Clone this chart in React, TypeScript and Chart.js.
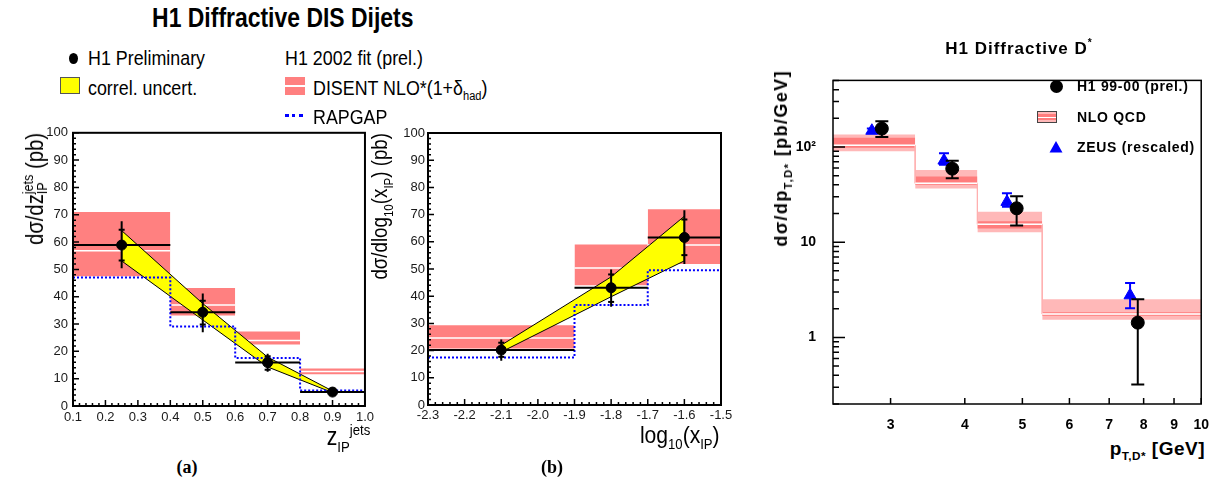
import React, { useEffect, useRef } from "react";
import { Chart, registerables } from "chart.js";
Chart.register(...registerables);

// ---------------- Panel (a): dσ/dz_IP^jets ----------------
const zEdges = [0.1, 0.4, 0.6, 0.8, 1.0];
const zCentres = [0.25, 0.5, 0.7, 0.9];
const zValues = [58.9, 34.3, 15.9, 5.1];
const zTotLo = [50.4, 27.0, 12.5, 5.1];
const zTotHi = [67.6, 41.2, 19.1, 5.1];
const zStatLo = [53.3, 29.8, 13.3, null];
const zStatHi = [64.5, 38.5, 18.2, null];
const zCorrUp = [64.2, 37.5, 17.9, 5.5];
const zCorrDn = [53.1, 31.5, 14.3, 4.9];
const zNloLo = [47.5, 33.1, 22.5, 11.6];
const zNloHi = [71.0, 43.2, 27.3, 13.7];
const zNloMid = [56.8, 37.0, 24.0, 12.6];
const zRapgap = [47.0, 29.1, 17.6, 5.7];

// ---------------- Panel (b): dσ/dlog10(x_IP) ----------------
const xpEdges = [-2.3, -1.9, -1.7, -1.5];
const xpCentres = [-2.1, -1.8, -1.6];
const xpValues = [20.2, 43.1, 61.6];
const xpTotLo = [16.3, 36.1, 51.8];
const xpTotHi = [24.1, 49.8, 71.6];
const xpStatLo = [17.7, 37.9, 55.1];
const xpStatHi = [22.9, 48.0, 68.2];
const xpCorrUp = [22.0, 47.1, 69.4];
const xpCorrDn = [19.5, 39.8, 53.0];
const xpNloLo = [20.8, 44.0, 51.8];
const xpNloHi = [29.3, 59.0, 72.0];
const xpNloMid = [24.6, 50.4, 58.8];
const xpRapgap = [17.5, 36.8, 49.5];

// ---------------- Panel (c): dσ/dpT,D* ----------------
const ptEdges = [2.4, 3.3, 4.2, 5.4, 10];
const ptH1X = [2.9, 3.81, 4.89, 7.82];
const ptH1 = [156, 59.2, 22.7, 1.43];
const ptH1Lo = [127, 46.9, 15.0, 0.32];
const ptH1Hi = [186, 71.5, 30.3, 2.52];
const ptZeusX = [2.79, 3.69, 4.71, 7.59];
const ptZeus = [148, 72, 26.5, 2.77];
const ptZeusLo = [141, 65, 23.6, 2.03];
const ptZeusHi = [156, 86, 32.7, 3.72];
const ptNloOuterLo = [90, 36.6, 12.7, 1.53];
const ptNloOuterHi = [135, 57.4, 20.9, 2.52];
const ptNloInnerLo = [98, 40, 13.9, 1.69];
const ptNloInnerHi = [125, 49, 16.6, 1.84];
const ptNloMid = [104, 41.5, 15.4, 1.76];
const ptTickValues = [3, 4, 5, 6, 7, 8, 9, 10];
const ptYTickValues = [1, 10, 100];
const ptYTickLabels = ["1", "10", "10\u00b2"];

const FONT = '"Liberation Sans", Arial, Helvetica, sans-serif';

function rangeTicks(from: number, to: number, step: number, skipEvery = 0) {
  const out: number[] = [];
  const n = Math.round((to - from) / step);
  for (let i = 0; i <= n; i++) {
    if (skipEvery && i % skipEvery === 0) continue;
    out.push(+(from + i * step).toFixed(6));
  }
  return out;
}

function framePlugin(cfg: any) {
  return {
    id: "frame",
    afterDatasetsDraw(chart: any) {
      const { ctx, chartArea: a } = chart;
      const xs = chart.scales.x;
      const ys = chart.scales.y;
      ctx.save();
      ctx.strokeStyle = "#000";
      ctx.lineWidth = cfg.tickWidth;
      ctx.beginPath();
      const yt = (vals: number[], len: number) =>
        vals.forEach((v) => {
          const p = ys.getPixelForValue(v);
          ctx.moveTo(a.left, p);
          ctx.lineTo(a.left + len, p);
        });
      const xt = (vals: number[], len: number) =>
        vals.forEach((v) => {
          const p = xs.getPixelForValue(v);
          ctx.moveTo(p, a.bottom);
          ctx.lineTo(p, a.bottom - len);
        });
      yt(cfg.yMajor, cfg.yMajorLen);
      yt(cfg.yMinor, cfg.yMinorLen);
      xt(cfg.xMajor, cfg.xMajorLen);
      xt(cfg.xMinor, cfg.xMinorLen);
      ctx.stroke();
      ctx.lineWidth = cfg.frameWidth;
      ctx.strokeRect(a.left, a.top, a.right - a.left, a.bottom - a.top);
      ctx.restore();
    },
  };
}

const NONE = "rgba(0,0,0,0)";

function dijetDatasets(
  edges: number[], centres: number[], values: number[],
  totLo: number[], totHi: number[], statLo: (number | null)[], statHi: (number | null)[],
  corrUp: number[], corrDn: number[], nloLo: number[], nloHi: number[], nloMid: number[], rap: number[]
) {
  const ds: any[] = [];
  nloLo.forEach((lo, i) =>
    ds.push({
      data: [{ x: edges[i], y: nloHi[i] }, { x: edges[i + 1], y: nloHi[i] }],
      fill: { value: lo }, backgroundColor: "#ff8080", borderColor: NONE, borderWidth: 1,
      pointRadius: 0, order: 10,
    })
  );
  ds.push({
    data: nloMid.flatMap((m, i) => [{ x: edges[i], y: m }, { x: edges[i + 1], y: m }, { x: edges[i + 1], y: null }]),
    borderColor: "#ffffff", borderWidth: 1.5, pointRadius: 0, fill: false, order: 9,
  });
  ds.push({
    data: [
      ...centres.map((c, i) => ({ x: c, y: corrUp[i] })),
      ...centres.map((c, i) => ({ x: c, y: corrDn[i] })).reverse(),
      { x: centres[0], y: corrUp[0] },
    ],
    fill: "shape", backgroundColor: "#ffff00", borderColor: "#000", borderWidth: 1, pointRadius: 0, order: 8,
  });
  ds.push({
    data: rap.flatMap((v, i) => [{ x: edges[i], y: v }, { x: edges[i + 1], y: v }]),
    borderColor: "#0000ff", borderWidth: 2, borderDash: [2, 2], pointRadius: 0, fill: false, order: 7,
  });
  ds.push({
    data: values.flatMap((v, i) => [{ x: edges[i], y: v }, { x: edges[i + 1], y: v }, { x: edges[i + 1], y: null }]),
    borderColor: "#000", borderWidth: 2, pointRadius: 0, fill: false, order: 6,
  });
  ds.push({
    data: centres.flatMap((c, i) => [{ x: c, y: totLo[i] }, { x: c, y: totHi[i] }, { x: c, y: null }]),
    borderColor: "#000", borderWidth: 2, pointRadius: 0, fill: false, order: 5,
  });
  ds.push({
    data: centres.flatMap((c, i) => [{ x: c, y: statLo[i] }, { x: c, y: statHi[i] }]),
    showLine: false, pointStyle: "line", pointRadius: 3, pointBorderWidth: 2,
    pointBorderColor: "#000", pointBackgroundColor: "#000", order: 4,
  });
  ds.push({
    data: centres.map((c, i) => ({ x: c, y: values[i] })),
    showLine: false, pointStyle: "circle", pointRadius: 5, pointBorderWidth: 1,
    pointBorderColor: "#000", pointBackgroundColor: "#000", order: 3,
  });
  return ds;
}

function dijetConfig(p: any) {
  return {
    type: "line",
    data: { datasets: p.datasets },
    options: {
      animation: false, responsive: false, devicePixelRatio: 1, events: [],
      layout: { padding: { left: 0, top: p.padTop, right: p.padRight, bottom: 0 } },
      plugins: { legend: { display: false }, tooltip: { enabled: false } },
      scales: {
        x: {
          type: "linear", min: p.xMin, max: p.xMax,
          grid: { display: false, drawTicks: false }, border: { display: false },
          ticks: { stepSize: 0.1, autoSkip: false, maxRotation: 0, padding: p.xPad, color: "#1a1a1a", font: { family: FONT, size: 13 } },
          afterFit: (s: any) => { s.height = 24; },
        },
        y: {
          type: "linear", min: 0, max: 100,
          grid: { display: false, drawTicks: false }, border: { display: false },
          ticks: { stepSize: 10, autoSkip: false, padding: p.yPad, color: "#1a1a1a", font: { family: FONT, size: 13 } },
          afterFit: (s: any) => { s.width = p.yWidth; },
        },
      },
    },
    plugins: [
      framePlugin({
        tickWidth: 1.5, frameWidth: 2,
        yMajor: rangeTicks(0, 100, 10), yMajorLen: 6, yMinor: rangeTicks(0, 100, 2, 5), yMinorLen: 3,
        xMajor: rangeTicks(p.xMin, p.xMax, 0.1), xMajorLen: 6, xMinor: rangeTicks(p.xMin, p.xMax, 0.02, 5), xMinorLen: 3,
      }),
    ],
  };
}

function configA() {
  return dijetConfig({
    datasets: dijetDatasets(zEdges, zCentres, zValues, zTotLo, zTotHi, zStatLo, zStatHi, zCorrUp, zCorrDn, zNloLo, zNloHi, zNloMid, zRapgap),
    xMin: 0.1, xMax: 1.0, padTop: 11, padRight: 8, yWidth: 73, xPad: 4, yPad: 5,
  });
}

function configB() {
  return dijetConfig({
    datasets: dijetDatasets(xpEdges, xpCentres, xpValues, xpTotLo, xpTotHi, xpStatLo, xpStatHi, xpCorrUp, xpCorrDn, xpNloLo, xpNloHi, xpNloMid, xpRapgap),
    xMin: -2.3, xMax: -1.5, padTop: 13, padRight: 19, yWidth: 58, xPad: 3, yPad: 3,
  });
}

function configC() {
  const ds: any[] = [];
  ptNloOuterLo.forEach((lo, i) =>
    ds.push({
      data: [{ x: ptEdges[i], y: ptNloOuterHi[i] }, { x: ptEdges[i + 1], y: ptNloOuterHi[i] }],
      fill: { value: lo }, backgroundColor: "#ffb8b8", borderColor: NONE, borderWidth: 1, pointRadius: 0, order: 12,
    })
  );
  ptNloInnerLo.forEach((lo, i) =>
    ds.push({
      data: [{ x: ptEdges[i], y: ptNloInnerHi[i] }, { x: ptEdges[i + 1], y: ptNloInnerHi[i] }],
      fill: { value: lo }, backgroundColor: "#ff7c7c", borderColor: NONE, borderWidth: 1, pointRadius: 0, order: 11,
    })
  );
  ds.push({
    data: ptNloMid.flatMap((m, i) => [{ x: ptEdges[i], y: m }, { x: ptEdges[i + 1], y: m }]),
    borderColor: "#ffb0b0", borderWidth: 1, pointRadius: 0, fill: false, order: 10,
  });
  ds.push({
    data: ptNloMid.flatMap((m, i) => [{ x: ptEdges[i], y: m }, { x: ptEdges[i + 1], y: m }, { x: ptEdges[i + 1], y: null }]),
    borderColor: "#ffffff", borderWidth: 1.5, pointRadius: 0, fill: false, order: 9,
  });
  // ZEUS
  ds.push({
    data: ptZeusX.flatMap((x, i) => [{ x, y: ptZeusLo[i] }, { x, y: ptZeusHi[i] }, { x, y: null }]),
    borderColor: "#0000ff", borderWidth: 2, pointRadius: 0, fill: false, order: 8,
  });
  ds.push({
    data: ptZeusX.flatMap((x, i) => [{ x, y: ptZeusLo[i] }, { x, y: ptZeusHi[i] }]),
    showLine: false, pointStyle: "line", pointRadius: 5, pointBorderWidth: 2, pointBorderColor: "#0000ff", order: 7,
  });
  ds.push({
    data: ptZeusX.map((x, i) => ({ x, y: ptZeus[i] })),
    showLine: false, pointStyle: "triangle", pointRadius: 7, pointBorderWidth: 1,
    pointBorderColor: "#0000ff", pointBackgroundColor: "#0000ff", order: 6,
  });
  // H1
  ds.push({
    data: ptH1X.flatMap((x, i) => [{ x, y: ptH1Lo[i] }, { x, y: ptH1Hi[i] }, { x, y: null }]),
    borderColor: "#000", borderWidth: 2, pointRadius: 0, fill: false, order: 5,
  });
  ds.push({
    data: ptH1X.flatMap((x, i) => [{ x, y: ptH1Lo[i] }, { x, y: ptH1Hi[i] }]),
    showLine: false, pointStyle: "line", pointRadius: 6.5, pointBorderWidth: 2, pointBorderColor: "#000", order: 4,
  });
  ds.push({
    data: ptH1X.map((x, i) => ({ x, y: ptH1[i] })),
    showLine: false, pointStyle: "circle", pointRadius: 6.5, pointBorderWidth: 1,
    pointBorderColor: "#000", pointBackgroundColor: "#000", order: 3,
  });

  const yMinor: number[] = [];
  [0.1, 1, 10, 100].forEach((d) => [2, 3, 4, 5, 6, 7, 8, 9].forEach((k) => {
    const v = +(k * d).toFixed(4);
    if (v >= 0.2 && v <= 500) yMinor.push(v);
  }));

  return {
    type: "line",
    data: { datasets: ds },
    options: {
      animation: false, responsive: false, devicePixelRatio: 1, events: [],
      layout: { padding: { left: 0, top: 14, right: 17, bottom: 0 } },
      plugins: { legend: { display: false }, tooltip: { enabled: false } },
      scales: {
        x: {
          type: "logarithmic", min: 2.4, max: 10,
          grid: { display: false, drawTicks: false }, border: { display: false },
          afterBuildTicks: (s: any) => { s.ticks = ptTickValues.map((v) => ({ value: v })); },
          ticks: {
            autoSkip: false, maxRotation: 0, padding: 13, color: "#000",
            font: { family: FONT, size: 14, weight: "bold" },
            callback: (v: any) => String(v),
          },
          afterFit: (s: any) => { s.height = 30; },
        },
        y: {
          type: "logarithmic", min: 0.2, max: 500,
          grid: { display: false, drawTicks: false }, border: { display: false },
          afterBuildTicks: (s: any) => { s.ticks = ptYTickValues.map((v) => ({ value: v })); },
          ticks: {
            autoSkip: false, padding: 17, color: "#000",
            font: { family: FONT, size: 14, weight: "bold" },
            callback: (v: any) => {
              const i = ptYTickValues.indexOf(Number(v));
              return i >= 0 ? ptYTickLabels[i] : "";
            },
          },
          afterFit: (s: any) => { s.width = 73; },
        },
      },
    },
    plugins: [
      framePlugin({
        tickWidth: 1.5, frameWidth: 1.5,
        yMajor: ptYTickValues, yMajorLen: 12, yMinor, yMinorLen: 6,
        xMajor: ptTickValues, xMajorLen: 6, xMinor: [], xMinorLen: 0,
      }),
    ],
  };
}

function ChartCanvas({ left, top, width, height, make }: any) {
  const ref = useRef<HTMLCanvasElement | null>(null);
  useEffect(() => {
    const c = new Chart(ref.current as any, make());
    return () => c.destroy();
  }, []);
  return (
    <canvas ref={ref} width={width} height={height}
      style={{ position: "absolute", left, top, width, height }} />
  );
}

const Sub = ({ children, s = 0.62, dy = 0.26 }: any) => (
  <span style={{ fontSize: `${s}em`, position: "relative", top: `${dy / s}em` }}>{children}</span>
);
const Sup = ({ children, s = 0.62, dy = 0.42 }: any) => (
  <span style={{ fontSize: `${s}em`, position: "relative", top: `${-dy / s}em` }}>{children}</span>
);
const SubSup = ({ sub, sup, s = 0.62 }: any) => (
  <span style={{ display: "inline-flex", flexDirection: "column", alignItems: "flex-start", fontSize: `${s}em`, lineHeight: 1, verticalAlign: `${0.44 / s}em` }}>
    <span>{sup}</span>
    <span>{sub}</span>
  </span>
);

const abs = (s: any): any => ({ position: "absolute", whiteSpace: "nowrap", lineHeight: 1, ...s });
const sq = (k = 0.85, origin = "left center"): any => ({ display: "inline-block", transform: `scaleX(${k})`, transformOrigin: origin });
const SERIF = '"Liberation Serif", "DejaVu Serif", serif';

export default function App() {
  return (
    <div style={{ position: "fixed", left: 0, top: 0, width: 1222, height: 485, background: "#fff", overflow: "hidden", fontFamily: FONT, color: "#000" }}>
      <ChartCanvas left={0} top={120} width={378} height={310} make={configA} />
      <ChartCanvas left={370} top={120} width={370} height={309} make={configB} />
      <ChartCanvas left={760} top={55} width={462} height={379} make={configC} />

      {/* main title */}
      <div style={abs({ left: 0, top: 5, width: 565, textAlign: "center", fontSize: 27, fontWeight: "bold" })}>
        <span style={sq(0.85, "center")}>H1 Diffractive DIS Dijets</span>
      </div>

      {/* legend a/b */}
      <div style={abs({ left: 69, top: 53, width: 9, height: 11, borderRadius: "50%", background: "#000" })} />
      <div style={abs({ left: 88, top: 47, fontSize: 21 })}><span style={sq()}>H1 Preliminary</span></div>
      <div style={abs({ left: 60, top: 77, width: 20, height: 17, background: "#ffff00", border: "1px solid #555", boxSizing: "border-box" })} />
      <div style={abs({ left: 88, top: 77, fontSize: 21 })}><span style={sq()}>correl. uncert.</span></div>
      <div style={abs({ left: 285, top: 47, fontSize: 21 })}><span style={sq()}>H1 2002 fit (prel.)</span></div>
      <div style={abs({ left: 285, top: 77, width: 20, height: 18, background: "#ff8080" })}>
        <div style={abs({ left: 0, top: 8, width: 20, height: 2, background: "#fff" })} />
      </div>
      <div style={abs({ left: 313, top: 77, fontSize: 21 })}><span style={sq()}>DISENT NLO*(1+δ<Sub>had</Sub>)</span></div>
      <div style={abs({ left: 285, top: 114, width: 18, height: 0, borderTop: "3px dotted #0000ff" })} />
      <div style={abs({ left: 313, top: 105.5, fontSize: 21 })}><span style={sq()}>RAPGAP</span></div>

      {/* axis titles a */}
      <div style={abs({ left: 20.5, top: 133, fontSize: 23, transformOrigin: "0 0", transform: "rotate(-90deg) scaleX(0.88) translateX(-100%)" })}>
        dσ/dz<SubSup sub="IP" sup="jets" /> (pb)
      </div>
      <div style={abs({ right: 1222 - 370, top: 424, fontSize: 25 })}>
        <span style={sq(0.85, "right center")}>z<Sub>IP</Sub><Sup>jets</Sup></span>
      </div>

      {/* axis titles b */}
      <div style={abs({ left: 369, top: 133, fontSize: 22, transformOrigin: "0 0", transform: "rotate(-90deg) scaleX(0.85) translateX(-100%)" })}>
        dσ/dlog<Sub>10</Sub>(x<Sub>IP</Sub>) (pb)
      </div>
      <div style={abs({ right: 1222 - 720, top: 423, fontSize: 24 })}>
        <span style={sq(0.88, "right center")}>log<Sub>10</Sub>(x<Sub>IP</Sub>)</span>
      </div>

      {/* captions */}
      <div style={abs({ left: 137, top: 458, width: 100, textAlign: "center", fontSize: 18, fontWeight: "bold", fontFamily: SERIF })}>(a)</div>
      <div style={abs({ left: 502, top: 458, width: 100, textAlign: "center", fontSize: 18, fontWeight: "bold", fontFamily: SERIF })}>(b)</div>

      {/* panel c texts */}
      <div style={abs({ left: 919, top: 40, width: 200, textAlign: "center", fontSize: 17, fontWeight: "bold", letterSpacing: 1 })}>
        H1 Diffractive D<Sup s={0.6} dy={0.45}>*</Sup>
      </div>
      <div style={abs({ left: 772, top: 70, fontSize: 18, fontWeight: "bold", letterSpacing: 1.4, transformOrigin: "0 0", transform: "rotate(-90deg) translateX(-100%)" })}>
        dσ/dp<Sub>T,D*</Sub> [pb/GeV]
      </div>
      <div style={abs({ right: 1222 - 1205, top: 439, fontSize: 19, fontWeight: "bold", letterSpacing: 0.5 })}>
        p<Sub>T,D*</Sub> [GeV]
      </div>

      {/* panel c legend */}
      <div style={abs({ left: 1049.5, top: 79.5, width: 13, height: 13, borderRadius: "50%", background: "#000" })} />
      <div style={abs({ left: 1077, top: 79, fontSize: 14, fontWeight: "bold", letterSpacing: 0.7 })}>H1 99-00 (prel.)</div>
      <div style={abs({ left: 1037, top: 111, width: 20, height: 12, background: "#ffb8b8", border: "1px solid #444", boxSizing: "border-box" })}>
        <div style={abs({ left: 0, top: 2, width: 18, height: 6, background: "#ff7c7c" })} />
        <div style={abs({ left: 0, top: 5, width: 18, height: 1, background: "#fff" })} />
      </div>
      <div style={abs({ left: 1077, top: 110, fontSize: 14, fontWeight: "bold", letterSpacing: 0.7 })}>NLO QCD</div>
      <svg style={abs({ left: 1049, top: 140 })} width={14} height={13}>
        <polygon points="7,1 13.5,12.5 0.5,12.5" fill="#0000ff" />
      </svg>
      <div style={abs({ left: 1077, top: 140, fontSize: 14, fontWeight: "bold", letterSpacing: 0.7 })}>ZEUS (rescaled)</div>
    </div>
  );
}
